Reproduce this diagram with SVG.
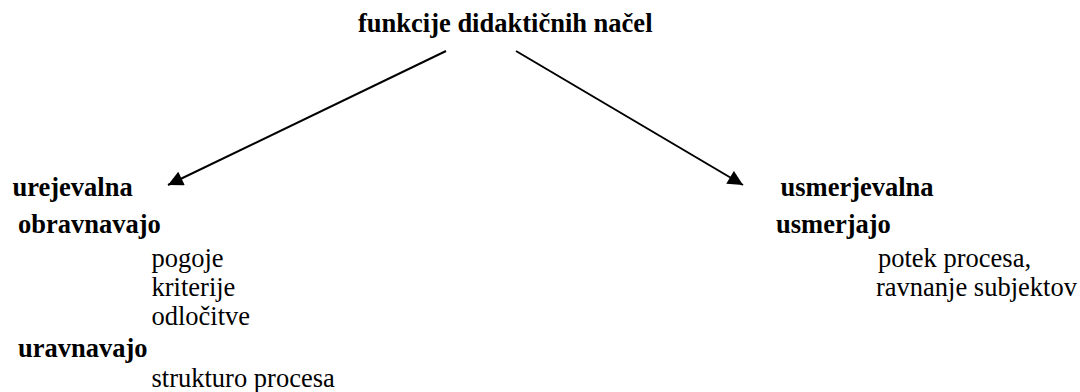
<svg xmlns="http://www.w3.org/2000/svg" width="1080" height="392" viewBox="0 0 1080 392" font-family="'Liberation Serif', 'Times New Roman', Times, serif">
  <style>
    text { font-family: 'Liberation Serif', 'Times New Roman', Times, serif; font-size: 26.5px; fill: #000; }
    .b { font-weight: bold; }
    .conn { stroke: #000; stroke-width: 2; fill: none; }
  </style>
  <defs>
    <marker id="tri" viewBox="0 0 10 10" refX="10" refY="5" markerUnits="userSpaceOnUse" markerWidth="16" markerHeight="15" orient="auto">
      <path d="M0,0 L10,5 L0,10 Z" fill="#000"/>
    </marker>
  </defs>
  <rect width="1080" height="392" fill="#fff"/>

  <g id="root">
    <text class="b" x="358" y="32">funkcije didaktičnih načel</text>
  </g>

  <g id="connectors">
    <line class="conn" x1="446" y1="51" x2="168" y2="185" marker-end="url(#tri)"/>
    <line class="conn" x1="516" y1="51" x2="743" y2="185" marker-end="url(#tri)"/>
  </g>

  <g id="urejevalna">
    <text class="b" x="12.5" y="196">urejevalna</text>
    <text class="b" x="18" y="233">obravnavajo</text>
    <text x="151.5" y="267">pogoje</text>
    <text x="151.5" y="296">kriterije</text>
    <text x="151.5" y="325">odločitve</text>
    <text class="b" x="18" y="356.5">uravnavajo</text>
    <text x="151.5" y="387">strukturo procesa</text>
  </g>

  <g id="usmerjevalna">
    <text class="b" x="780.5" y="196">usmerjevalna</text>
    <text class="b" x="776" y="233">usmerjajo</text>
    <text x="878" y="267">potek procesa,</text>
    <text x="876" y="295.5">ravnanje subjektov</text>
  </g>
</svg>
